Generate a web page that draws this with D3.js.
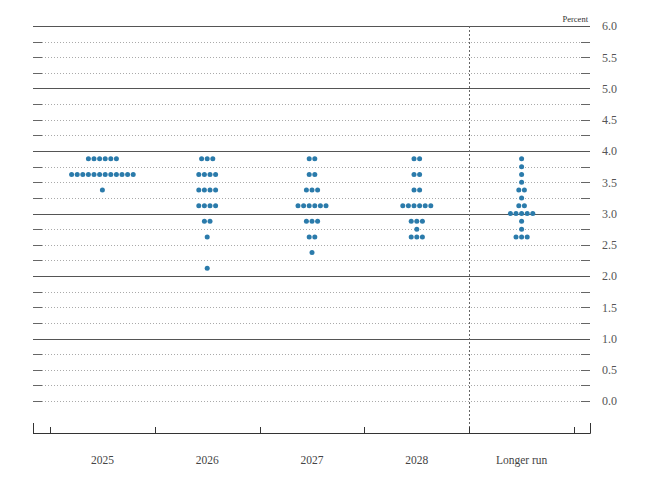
<!DOCTYPE html>
<html><head><meta charset="utf-8">
<script src="https://cdn.jsdelivr.net/npm/d3@7"></script>
<style>body{margin:0;background:#fff}svg{display:block}</style>
</head><body>
<svg id="chart" width="660" height="494"></svg>
<script>
const categories = ["2025", "2026", "2027", "2028", "Longer run"];
const proj2025 = [3.875,3.875,3.875,3.875,3.875,3.875,
  3.625,3.625,3.625,3.625,3.625,3.625,3.625,3.625,3.625,3.625,3.625,3.625,
  3.375];
const proj2026 = [3.875,3.875,3.875, 3.625,3.625,3.625,3.625, 3.375,3.375,3.375,3.375,
  3.125,3.125,3.125,3.125, 2.875,2.875, 2.625, 2.125];
const proj2027 = [3.875,3.875, 3.625,3.625, 3.375,3.375,3.375,
  3.125,3.125,3.125,3.125,3.125,3.125, 2.875,2.875,2.875, 2.625,2.625, 2.375];
const proj2028 = [3.875,3.875, 3.625,3.625, 3.375,3.375,
  3.125,3.125,3.125,3.125,3.125,3.125, 2.875,2.875,2.875, 2.75, 2.625,2.625,2.625];
const projLonger = [3.875, 3.75, 3.625, 3.5, 3.375,3.375, 3.25, 3.125,3.125,
  3.0,3.0,3.0,3.0,3.0, 2.875, 2.75, 2.625,2.625,2.625];
const projections = [proj2025, proj2026, proj2027, proj2028, projLonger];
const yTickLabels = ["0.0","0.5","1.0","1.5","2.0","2.5","3.0","3.5","4.0","4.5","5.0","5.5","6.0"];

const svg = d3.select("#chart");
const left = 33, right = 590, axisY = 433;
const y = d3.scaleLinear().domain([0, 6]).range([401, 26]);
const x = d3.scaleBand().domain(categories).range([50, 574]).padding(0);

const gridVals = d3.range(0, 24.5).map(i => i * 0.25);
const grid = svg.append("g");
gridVals.forEach(v => {
  const yy = Math.round(y(v)) + 0.5;
  const major = Math.abs(v - Math.round(v)) < 1e-9 && v > 0;
  if (major) {
    grid.append("line").attr("x1", left).attr("x2", right).attr("y1", yy).attr("y2", yy)
      .attr("stroke", "#555").attr("stroke-width", 1);
  } else {
    grid.append("line").attr("x1", left + 9).attr("x2", right - 9).attr("y1", yy).attr("y2", yy)
      .attr("stroke", "#aaa").attr("stroke-width", 1).attr("stroke-dasharray", "1,2");
    grid.append("line").attr("x1", left).attr("x2", left + 9).attr("y1", yy).attr("y2", yy)
      .attr("stroke", "#666").attr("stroke-width", 1);
    grid.append("line").attr("x1", right - 9).attr("x2", right).attr("y1", yy).attr("y2", yy)
      .attr("stroke", "#666").attr("stroke-width", 1);
  }
});

// right axis labels
const yAxis = d3.axisRight(y).tickValues(yTickLabels.map(Number)).tickFormat((d, i) => yTickLabels[i]).tickSize(0).tickPadding(12);
const ya = svg.append("g").attr("transform", `translate(${right},0)`).call(yAxis);
ya.select(".domain").remove();
ya.selectAll("text").attr("font-family", "Liberation Serif").attr("font-size", 12).attr("fill", "#555");

svg.append("text").attr("x", right - 2).attr("y", 22).attr("text-anchor", "end")
  .attr("font-family", "Liberation Serif").attr("font-size", 8.5).attr("fill", "#333").text("Percent");

// vertical dashed separator
const sepX = Math.round(x("Longer run")) + 0.5;
svg.append("line").attr("x1", sepX).attr("x2", sepX).attr("y1", y(6)).attr("y2", axisY)
  .attr("stroke", "#666").attr("stroke-width", 1).attr("stroke-dasharray", "2,2");

// bottom axis
const xAxis = d3.axisBottom(x).tickSize(0).tickPadding(22);
const xa = svg.append("g").attr("transform", `translate(0,${axisY + 0.5})`).call(xAxis);
xa.select(".domain").remove();
xa.selectAll("text").attr("font-family", "Liberation Serif").attr("font-size", 11.5).attr("fill", "#444");
const ax = svg.append("g").attr("stroke", "#333").attr("stroke-width", 1);
ax.append("line").attr("x1", left).attr("x2", right + 0.5).attr("y1", axisY + 0.5).attr("y2", axisY + 0.5);
ax.append("line").attr("x1", left + 0.5).attr("x2", left + 0.5).attr("y1", axisY - 10).attr("y2", axisY + 0.5);
ax.append("line").attr("x1", right + 0.5).attr("x2", right + 0.5).attr("y1", axisY - 10).attr("y2", axisY + 0.5);
const bounds = categories.map(c => x(c)).concat([x(categories[categories.length - 1]) + x.bandwidth()]);
bounds.forEach(b => {
  const bx = Math.round(b) + 0.5;
  ax.append("line").attr("x1", bx).attr("x2", bx).attr("y1", axisY - 6).attr("y2", axisY + 0.5);
});

// dots
const spacing = 5.6;
const dots = [];
categories.forEach((c, ci) => {
  const groups = d3.rollups(projections[ci], v => v.length, d => d);
  groups.forEach(([val, n]) => {
    for (let i = 0; i < n; i++) {
      dots.push({ cx: x(c) + x.bandwidth() / 2 + (i - (n - 1) / 2) * spacing, cy: y(val) });
    }
  });
});
svg.append("g").selectAll("circle").data(dots).join("circle")
  .attr("cx", d => d.cx).attr("cy", d => d.cy).attr("r", 2.5).attr("fill", "#2b7bab");
</script>
</body></html>
